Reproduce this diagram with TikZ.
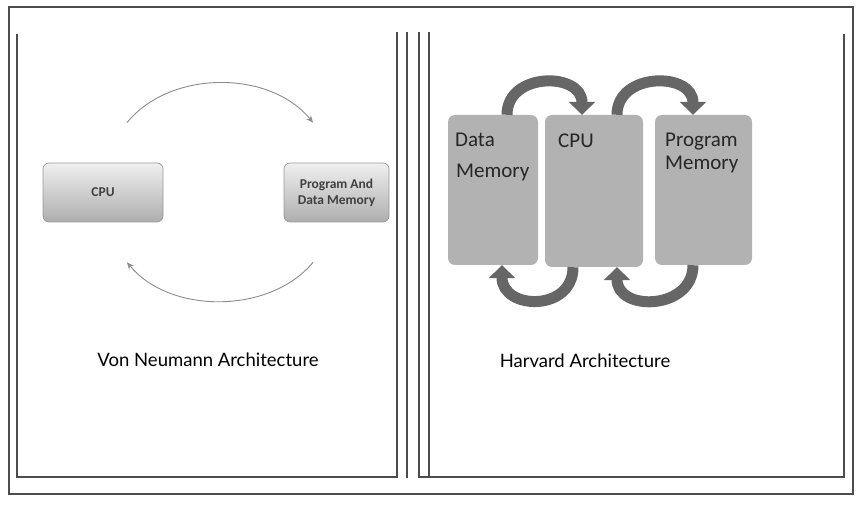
\documentclass[tikz,border=0pt]{standalone}
\usepackage{fontspec}
\setmainfont{Carlito}
\newfontfamily\titlefont{Lato}
\usetikzlibrary{arrows.meta}
\begin{document}
\begin{tikzpicture}[x=1pt,y=-1pt,
  frame/.style={draw=black!70,line width=1.6pt},
  vnbox/.style={draw=black!40,line width=0.7pt,rounded corners=6pt,top color=black!6,bottom color=black!32,minimum width=120pt,minimum height=59pt,inner sep=0pt,font=\bfseries\fontsize{13.5}{16}\selectfont,text=black!75,align=center},
  hbox/.style={fill=black!30,rounded corners=7pt,inner sep=0pt,minimum height=150pt},
  thinarc/.style={draw=black!45,line width=0.9pt,-{Stealth[length=7pt,width=6pt]}},
  thickarc/.style={draw=black!60,line width=11pt,-{Triangle[length=13pt,width=26pt]}},
  title/.style={font=\titlefont\fontsize{18.5}{20}\selectfont,text=black},
  hlabel/.style={font=\fontsize{21}{24}\selectfont,text=black!85,anchor=base west,inner sep=0pt}
]
\fill[white] (0,0) rectangle (863,505);
\useasboundingbox (0,0) rectangle (863,505);

% frames
\draw[frame] (9,7) rectangle (853,494);
\draw[frame] (17,34) -- (17,477) -- (397,477) -- (397,32);
\draw[frame] (407,32) -- (407,478);
\draw[frame] (419,32) -- (419,477) -- (844,477) -- (844,34);
\draw[frame] (429,32) -- (429,477);

% Von Neumann
\node[vnbox] (cpuL) at (103,192.5) {CPU};
\node[vnbox,minimum width=105pt] (pmL) at (336.5,192.5) {Program And\\Data Memory};
\draw[thinarc] ([xshift=24pt,yshift=40pt]cpuL.north) .. controls +(43,-53) and +(-43,-53) .. ([xshift=-23.5pt,yshift=40pt]pmL.north);
\draw[thinarc] ([xshift=-23.5pt,yshift=-40pt]pmL.south) .. controls +(-43,52) and +(43,52) .. ([xshift=24pt,yshift=-40pt]cpuL.south);
\node[title] (vnt) at (208,360) {Von Neumann Architecture};

% Harvard
\node[hbox,minimum width=90pt] (dm) at (493,190) {};
\node[hbox,minimum width=98pt,minimum height=152pt] (hcpu) at (594,191) {};
\node[hbox,minimum width=97pt] (pm) at (703.5,190) {};
\node[hlabel] (dml1) at (455,147) {Data};
\node[hlabel] (dml2) at (456,178) {Memory};
\node[hlabel] (cpul) at (558,148) {CPU};
\node[hlabel] (pml1) at (665,147) {Program};
\node[hlabel] (pml2) at (665,170) {Memory};

\draw[thickarc] ([xshift=14pt]dm.north) .. controls +(0,-43) and +(0,-43) .. ([xshift=-12pt]hcpu.north);
\draw[thickarc] ([xshift=23pt]hcpu.north) .. controls +(0,-43) and +(0,-43) .. ([xshift=-10.5pt]pm.north);
\draw[thickarc] ([xshift=-21pt]hcpu.south) .. controls +(0,45) and +(0,45) .. ([xshift=9pt]dm.south);
\draw[thickarc] ([xshift=-10.5pt]pm.south) .. controls +(0,45) and +(0,45) .. ([xshift=23pt]hcpu.south);
\node[title] (hat) at (585,361) {Harvard Architecture};
\end{tikzpicture}
\end{document}
